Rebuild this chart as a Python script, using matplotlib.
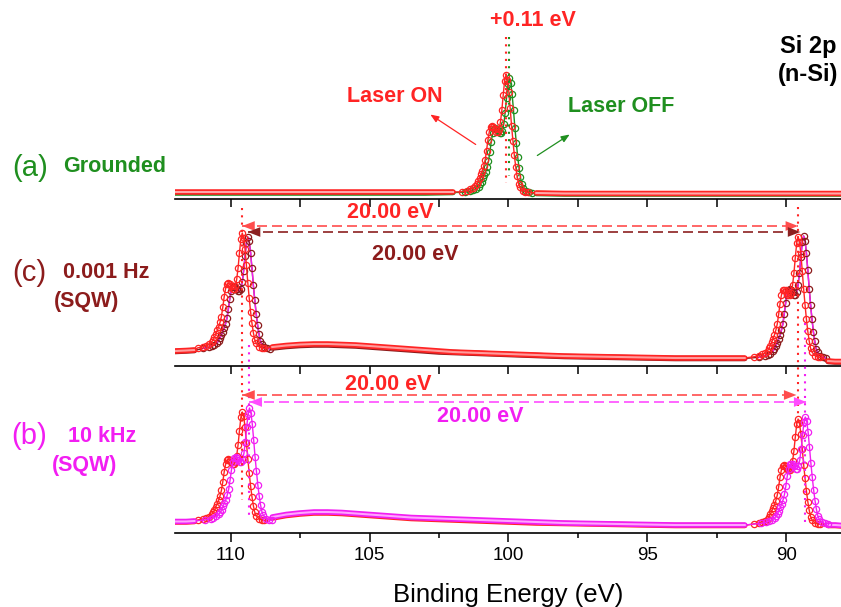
import matplotlib
matplotlib.use('Agg')
import matplotlib.pyplot as plt
import matplotlib.transforms as mtransforms
from matplotlib.ticker import MultipleLocator

plt.rcParams['font.family'] = ['Liberation Sans', 'DejaVu Sans']

W, H = 841, 607

# Si 2p line shape: offset from the 2p3/2 maximum (eV, + = higher BE), normalised
PEAK_DE = [-0.80, -0.70, -0.60, -0.50, -0.45, -0.40, -0.35, -0.30, -0.25, -0.20, -0.15, -0.10, -0.05,
           0.00, 0.05, 0.10, 0.15, 0.20, 0.25, 0.30, 0.35, 0.40, 0.45, 0.50, 0.55, 0.60, 0.65,
           0.70, 0.75, 0.80, 0.85, 0.90, 0.95, 1.00, 1.05, 1.10, 1.20, 1.30, 1.40, 1.60]
PEAK_I = [0.005, 0.01, 0.02, 0.05, 0.08, 0.14, 0.22, 0.32, 0.44, 0.57, 0.72, 0.86, 0.96,
          1.00, 0.95, 0.83, 0.70, 0.60, 0.54, 0.52, 0.52, 0.54, 0.56, 0.565, 0.56, 0.52, 0.45,
          0.36, 0.28, 0.23, 0.19, 0.16, 0.13, 0.10, 0.08, 0.06, 0.04, 0.03, 0.02, 0.01]

# (a) grounded: peak = (position eV, height, base), intensities in a.u.
A_ON_PEAK = (100.09, 118, 6)
A_OFF_PEAK = (99.97, 115.5, 5.5)
A_BG_LEFT_E = [112.0, 111.0, 110.0, 109.0, 108.0, 107.0, 106.0, 105.0, 104.0, 103.0, 102.0]
A_ON_BG_LEFT = [7, 7, 7, 7, 7, 7, 7, 7, 7, 7, 7]
A_OFF_BG_LEFT = [6, 6, 6, 6, 6, 6, 6, 6, 6, 6, 6.5]
A_BG_RIGHT_E = [99.0, 98.0, 97.0, 96.0, 95.0, 94.0, 93.0, 92.0, 91.0, 90.0, 89.0, 88.0]
A_ON_BG_RIGHT = [6, 5.5, 5.5, 5.5, 5.5, 5.5, 5.5, 5.5, 5.5, 5.5, 5.5, 5.5]
A_OFF_BG_RIGHT = [5.5, 5, 5, 5, 5, 5, 5, 5, 5, 5, 5, 5]

# (c) 0.001 Hz and (b) 10 kHz square wave: two Si 2p peaks 20 eV apart
SQW_LEFT_E = [112.0, 111.6, 111.3]
SQW_MID_E = [108.5, 108.0, 107.5, 107.0, 106.5, 106.0, 105.5, 105.0, 104.5, 104.0, 103.5, 103.0, 102.5,
             102.0, 101.5, 101.0, 100.5, 100.0, 99.0, 98.0, 97.0, 96.0, 95.0, 94.0, 93.0, 92.0, 91.5]
SQW_RIGHT_E = [88.5, 88.25, 88.0]

C_ON_PEAKS = [(109.58, 116, 17), (89.58, 121, 8)]
C_ON_LEFT = [15, 15.5, 16]
C_ON_MID = [19, 20.5, 21.5, 22, 22, 21.5, 21, 20, 19, 18, 17, 16, 15,
            14, 13.5, 13, 12.5, 12, 11, 10, 9.5, 9, 8.5, 8, 8, 8, 8]
C_ON_RIGHT = [5, 4.5, 4.5]
C_OFF_PEAKS = [(109.38, 112.5, 16.5), (89.38, 122.5, 7.5)]
C_OFF_LEFT = [14.5, 15, 15.5]
C_OFF_MID = [18, 19.5, 20.5, 21, 21, 20.5, 20, 19, 18, 17, 16, 15, 14,
             13.5, 13, 12.5, 12, 11.5, 10.5, 9.5, 9, 8.5, 8, 7.5, 7.5, 7.5, 7.5]
C_OFF_RIGHT = [4.5, 4, 4]

B_ON_PEAKS = [(109.58, 109, 12), (89.58, 106, 8)]
B_ON_LEFT = [11, 11, 11.5]
B_ON_MID = [15, 17.5, 19, 20, 20, 19.5, 18.5, 17.5, 16.5, 15.5, 14.5, 14, 13.5,
            13, 12.5, 12, 11.5, 11, 10, 9.5, 9, 8.5, 8, 7.5, 7.5, 7.5, 7.5]
B_ON_RIGHT = [7.5, 7.5, 7]
B_SQW_PEAKS = [(109.32, 113, 12), (89.32, 107.5, 8.5)]
B_SQW_LEFT = [11.5, 11.5, 12]
B_SQW_MID = [16, 18.5, 20, 21, 21, 20.5, 19.5, 18.5, 17.5, 16.5, 15.5, 15, 14.5,
             14, 13.5, 13, 12.5, 12, 11, 10, 9.5, 9, 8.5, 8, 8, 8, 8]
B_SQW_RIGHT = [8, 8, 7.5]

RED = '#ff2424'
GREEN = '#1f8f1f'
DRED = '#8c1c1c'
MAG = '#f21ef2'


def peak_points(pos, height, base):
    e = [pos + d for d in PEAK_DE][::-1]
    i = [base + height * v for v in PEAK_I][::-1]
    return e, i


def draw(ax, bgs, peaks, color, light, z, line=None):
    # bgs and peaks in order of decreasing binding energy, alternating bg / peak / bg ...
    segs = []
    for k, bg in enumerate(bgs):
        segs.append(('bg', bg))
        if k < len(peaks):
            segs.append(('pk', peak_points(*peaks[k])))
    e_all = [x for _, s in segs for x in s[0]]
    i_all = [y for _, s in segs for y in s[1]]
    ax.plot(e_all, i_all, color=color, lw=1.0, zorder=z)
    for kind, (e, i) in segs:
        if kind == 'bg':
            ax.plot(e, i, color=color, lw=4.0, solid_capstyle='round', zorder=z)
            ax.plot(e, i, color=light, lw=1.5, zorder=z + 0.1)
        else:
            if line:
                ax.plot(e, i, color=line, lw=1.0, zorder=z + 0.05)
            ax.plot(e, i, ls='none', marker='o', ms=4.5, mfc='none', mec=color, mew=0.9, zorder=z + 0.2)


fig = plt.figure(figsize=(W / 100, H / 100), dpi=100)
left, width = 175 / W, 667 / W


def panel(top_px, bottom_px):
    ax = fig.add_axes([left, 1 - bottom_px / H, width, (bottom_px - top_px) / H])
    ax.set_xlim(112, 88)
    ax.set_ylim(0, bottom_px - top_px)
    for s in ['top', 'left', 'right']:
        ax.spines[s].set_visible(False)
    ax.spines['bottom'].set_linewidth(1.2)
    ax.set_yticks([])
    ax.patch.set_alpha(0)
    return ax


ax_a = panel(30, 199)
ax_c = panel(199, 366)
ax_b = panel(366, 533)

for ax in (ax_a, ax_c):
    ax.xaxis.set_major_locator(MultipleLocator(2.5))
    ax.tick_params(axis='x', direction='out', length=6, width=1.1, labelbottom=False)
ax_b.xaxis.set_major_locator(MultipleLocator(5))
ax_b.xaxis.set_minor_locator(MultipleLocator(2.5))
ax_b.tick_params(axis='x', which='major', direction='out', length=6.5, width=1.1, pad=3.5, labelsize=13.5)
ax_b.tick_params(axis='x', which='minor', direction='out', length=3.5, width=1.1)

draw(ax_a, [(A_BG_LEFT_E, A_OFF_BG_LEFT), (A_BG_RIGHT_E, A_OFF_BG_RIGHT)], [A_OFF_PEAK],
     GREEN, '#f0a0a0', 2)
draw(ax_a, [(A_BG_LEFT_E, A_ON_BG_LEFT), (A_BG_RIGHT_E, A_ON_BG_RIGHT)], [A_ON_PEAK],
     RED, '#ffa8a8', 3)

draw(ax_c, [(SQW_LEFT_E, C_OFF_LEFT), (SQW_MID_E, C_OFF_MID), (SQW_RIGHT_E, C_OFF_RIGHT)], C_OFF_PEAKS,
     DRED, '#d08080', 2, line=MAG)
draw(ax_c, [(SQW_LEFT_E, C_ON_LEFT), (SQW_MID_E, C_ON_MID), (SQW_RIGHT_E, C_ON_RIGHT)], C_ON_PEAKS,
     RED, '#ff9c9c', 3)

draw(ax_b, [(SQW_LEFT_E, B_ON_LEFT), (SQW_MID_E, B_ON_MID), (SQW_RIGHT_E, B_ON_RIGHT)], B_ON_PEAKS,
     RED, '#ff9c9c', 2)
draw(ax_b, [(SQW_LEFT_E, B_SQW_LEFT), (SQW_MID_E, B_SQW_MID), (SQW_RIGHT_E, B_SQW_RIGHT)], B_SQW_PEAKS,
     MAG, '#ffa6ff', 3)

# overlay in pixel coordinates for annotations
ov = fig.add_axes([0, 0, 1, 1], zorder=10)
ov.set_xlim(0, W)
ov.set_ylim(H, 0)
ov.axis('off')
ov.patch.set_alpha(0)
ex = mtransforms.blended_transform_factory(ax_b.transData, ov.transData)

dot = (0, (1, 2.5))
for x, y0, y1, c in [(A_ON_PEAK[0], 37, 183, RED), (A_OFF_PEAK[0], 37, 176, GREEN),
                     (B_ON_PEAKS[0][0], 208, 500, RED), (B_SQW_PEAKS[0][0], 345, 520, MAG),
                     (B_ON_PEAKS[1][0], 207, 415, RED), (B_SQW_PEAKS[1][0], 323, 527, MAG)]:
    ov.plot([x, x], [y0, y1], transform=ex, color=c, lw=1.5, ls=dot)


def span_arrow(e0, e1, y, c):
    ov.plot([e0, e1], [y, y], transform=ex, color=c, lw=1.2, ls=(0, (6, 3)))
    for tip, back in [(e0, e0 - 0.45), (e1, e1 + 0.45)]:
        ov.annotate('', xy=(tip, y), xycoords=ex, xytext=(back, y), textcoords=ex,
                    arrowprops=dict(arrowstyle='-|>,head_length=0.9,head_width=0.35', color=c, lw=0,
                                    shrinkA=0, shrinkB=0))


span_arrow(C_ON_PEAKS[0][0], C_ON_PEAKS[1][0], 226, '#ff4d4d')
span_arrow(C_OFF_PEAKS[0][0], 89.5, 232, '#8c2020')
span_arrow(B_ON_PEAKS[0][0], 89.64, 395, '#ff4d4d')
span_arrow(B_SQW_PEAKS[0][0], 89.28, 402, '#ff4dff')

bold = dict(fontsize=15.5, fontweight='bold', ha='center', va='center')
ov.text(390, 213, '20.00 eV', color=RED, **bold)
ov.text(415, 254, '20.00 eV', color=DRED, **bold)
ov.text(388, 384, '20.00 eV', color=RED, **bold)
ov.text(480, 416, '20.00 eV', color=MAG, **bold)

ov.text(533, 21, '+0.11 eV', color=RED, **bold)
ov.text(395, 96, 'Laser ON', color=RED, **bold)
ov.text(621, 106, 'Laser OFF', color=GREEN, **bold)
ov.annotate('', xy=(428, 113), xytext=(478, 146),
            arrowprops=dict(arrowstyle='-|>,head_length=0.5,head_width=0.2', color=RED, lw=0.9))
ov.annotate('', xy=(572, 133), xytext=(535, 157),
            arrowprops=dict(arrowstyle='-|>,head_length=0.5,head_width=0.2', color=GREEN, lw=0.9))
ov.text(837, 47, 'Si 2p', color='black', fontsize=17, fontweight='bold', ha='right', va='center')
ov.text(838, 75, '(n-Si)', color='black', fontsize=17, fontweight='bold', ha='right', va='center')

big = dict(fontsize=21, ha='center', va='center')
side = dict(fontsize=15.5, fontweight='bold', va='center')
ov.text(30, 168, '(a)', color=GREEN, **big)
ov.text(63, 166, 'Grounded', color=GREEN, ha='left', **side)
ov.text(29, 273, '(c)', color=DRED, **big)
ov.text(63, 273, '0.001 Hz', color=DRED, ha='left', **side)
ov.text(87, 302, '(SQW)', color=DRED, ha='center', **side)
ov.text(29, 436, '(b)', color=MAG, **big)
ov.text(68, 436, '10 kHz', color=MAG, ha='left', **side)
ov.text(85, 465, '(SQW)', color=MAG, ha='center', **side)

ov.text(508, 595, 'Binding Energy (eV)', fontsize=18.5, ha='center', va='center')

fig.savefig('out.png', dpi=100)
